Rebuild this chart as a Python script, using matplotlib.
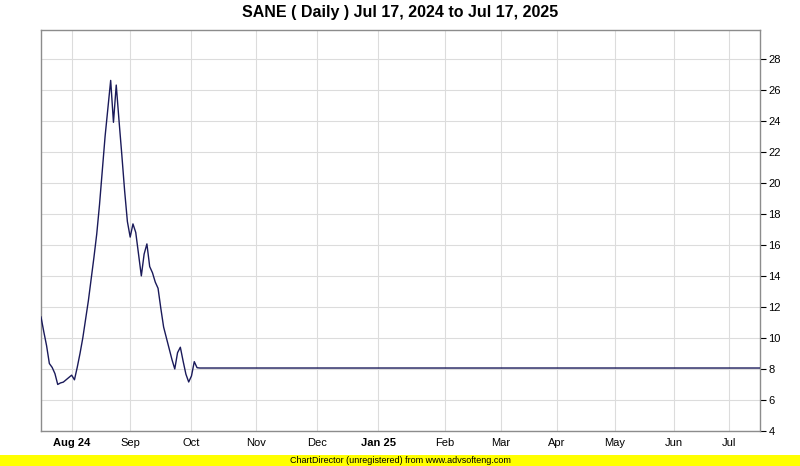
import matplotlib
matplotlib.use("Agg")
import matplotlib.pyplot as plt
from matplotlib.patches import Rectangle

plt.rcParams['font.family'] = ['Liberation Sans', 'DejaVu Sans']

title = "SANE ( Daily ) Jul 17, 2024 to Jul 17, 2025"

# Active trading period (daily closes, session index 0..56)
active_prices = [11.35, 10.4, 9.5, 8.35, 8.1, 7.7, 7.0, 7.1, 7.15, 7.3,
                 7.45, 7.6, 7.3, 8.1, 9.0, 10.0, 11.2, 12.4, 13.8, 15.2,
                 16.7, 18.6, 20.8, 23.0, 24.8, 26.6, 23.9, 26.3, 24.0, 21.8,
                 19.5, 17.5, 16.5, 17.35, 16.8, 15.4, 14.0, 15.4, 16.06, 14.6,
                 14.2, 13.6, 13.2, 11.9, 10.7, 10.0, 9.3, 8.6, 8.0, 9.05,
                 9.4, 8.5, 7.66, 7.16, 7.55, 8.47, 8.08]
flat_price = 8.06
total_sessions = 259

month_labels = ["Aug 24", "Sep", "Oct", "Nov", "Dec", "Jan 25", "Feb", "Mar",
                "Apr", "May", "Jun", "Jul"]
month_sessions = [11, 32, 54, 77, 99, 121, 145, 165, 185, 206, 227, 247]
bold_labels = ["Aug 24", "Jan 25"]

y_ticks = [4, 6, 8, 10, 12, 14, 16, 18, 20, 22, 24, 26, 28]

prices = active_prices + [flat_price] * (total_sessions - len(active_prices))
x = list(range(len(prices)))

fig = plt.figure(figsize=(8.0, 4.66), dpi=100)
ax = fig.add_axes([41/800, 1 - 431/466, (760-41)/800, (431-30)/466])

ax.plot(x, prices, color="#1a1a5a", linewidth=1.0, zorder=3)

ax.set_xlim(0, total_sessions - 1)
ax.set_ylim(4, 29.85)

ax.set_xticks(month_sessions)
ax.set_xticklabels(month_labels)
for lbl in ax.get_xticklabels():
    if lbl.get_text() in bold_labels:
        lbl.set_fontweight("bold")
ax.tick_params(axis="x", length=0, labelsize=8, pad=5, colors="#000000")

ax.yaxis.tick_right()
ax.set_yticks(y_ticks)
ax.set_yticklabels([str(v) for v in y_ticks])
ax.tick_params(axis="y", direction="out", length=4, width=0.8,
               color="#000000", labelsize=8, pad=2)

ax.grid(True, color="#dcdcdc", linewidth=0.8, zorder=0)
ax.set_axisbelow(True)
for side in ["left", "right", "top", "bottom"]:
    ax.spines[side].set_color("#8c8c8c")
    ax.spines[side].set_linewidth(1.0)

fig.text(0.5, 1 - 13/466, title, ha="center", va="center",
         fontsize=11.5, fontweight="bold", color="#000000")

fig.patches.append(Rectangle((0, 0), 1, 11/466, transform=fig.transFigure,
                             facecolor="#ffff00", edgecolor="none", zorder=0))
fig.text(0.5, 5.5/466, "ChartDirector (unregistered) from www.advsofteng.com",
         ha="center", va="center", fontsize=6.5, color="#000000")

fig.savefig("out.png", dpi=100, facecolor="white")
